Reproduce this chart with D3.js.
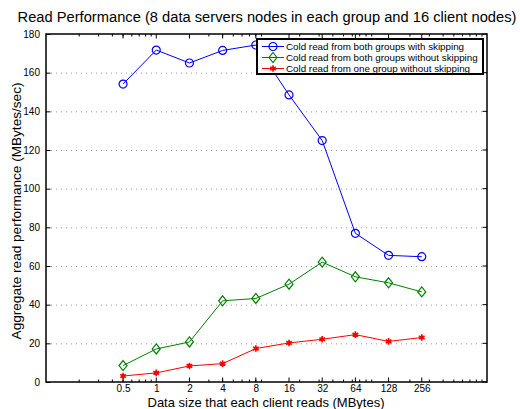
<!DOCTYPE html>
<html>
<head>
<meta charset="utf-8">
<script src="https://cdn.jsdelivr.net/npm/d3@7"></script>
<style>
body { margin: 0; background: #fff; }
text { font-family: "Liberation Sans", Arial, sans-serif; }
</style>
</head>
<body>
<div class="chart"></div>
<script>
// data
var sizes = [0.5, 1, 2, 4, 8, 16, 32, 64, 128, 256];
var tickLabels = ["0.5", "1", "2", "4", "8", "16", "32", "64", "128", "256"];
var bothSkip = [154.1, 171.7, 165, 171.5, 174.3, 148.5, 124.9, 76.9, 65.5, 64.8];
var bothNoSkip = [8.5, 17.1, 20.7, 42.0, 43.2, 50.6, 62.0, 54.4, 51.3, 46.6];
var oneNoSkip = [3.1, 4.7, 8.3, 9.5, 17.3, 20.2, 22.1, 24.5, 21.0, 23.0];
var seriesNames = [
    "Cold read from both groups with skipping",
    "Cold read from both groups without skipping",
    "Cold read from one group without skipping"
];
var yTicks = [0, 20, 40, 60, 80, 100, 120, 140, 160, 180];

var series = [
    {name: seriesNames[0], values: bothSkip, color: "#0000ff", marker: "circle"},
    {name: seriesNames[1], values: bothNoSkip, color: "#008000", marker: "diamond"},
    {name: seriesNames[2], values: oneNoSkip, color: "#ff0000", marker: "star"}
];

var margin = {top: 34, right: 33, bottom: 27, left: 46},
    width = 520 - margin.left - margin.right,
    height = 409 - margin.top - margin.bottom;

var svg = d3.select('.chart')
    .append('svg')
    .attr("width", 520)
    .attr("height", 409);

var g = svg.append("g")
    .attr("transform", "translate(" + margin.left + "," + margin.top + ")");

var x = d3.scaleLog()
    .domain([0.1, 1000])
    .range([0, width]);

var y = d3.scaleLinear()
    .domain([0, 180])
    .range([height, 0]);

// dotted grid
g.selectAll(".grid")
    .data(yTicks.slice(1, -1))
    .enter()
    .append("line")
    .attr("x1", 0)
    .attr("x2", width)
    .attr("y1", function (d) { return y(d) + 0.5; })
    .attr("y2", function (d) { return y(d) + 0.5; })
    .style("stroke", "#999")
    .style("stroke-dasharray", "1,4");

// minor ticks of the log axis
var minor = [];
[0.1, 1, 10, 100].forEach(function (dec) {
    for (var k = 2; k <= 9; k++) minor.push(dec * k);
});

function addTicks(vals, len) {
    [0, height].forEach(function (yy, i) {
        g.selectAll(null)
            .data(vals)
            .enter()
            .append("line")
            .attr("x1", function (d) { return x(d); })
            .attr("x2", function (d) { return x(d); })
            .attr("y1", yy)
            .attr("y2", i ? yy - len : yy + len)
            .style("stroke", "#000")
            .style("stroke-width", 1);
    });
}
addTicks(minor, 2.5);
addTicks(sizes, 4.5);

// right side mirror ticks
g.selectAll(".rtick")
    .data(yTicks)
    .enter()
    .append("line")
    .attr("x1", width)
    .attr("x2", width - 4.5)
    .attr("y1", function (d) { return y(d); })
    .attr("y2", function (d) { return y(d); })
    .style("stroke", "#000");

var xAxis = d3.axisBottom(x)
    .tickValues(sizes)
    .tickFormat(function (d, i) { return tickLabels[i]; })
    .tickSize(0)
    .tickPadding(3);

g.append("g")
    .attr("class", "x-axis")
    .attr("transform", "translate(0," + height + ")")
    .call(xAxis);

var yAxis = d3.axisLeft(y)
    .tickValues(yTicks)
    .tickSizeInner(-4.5)
    .tickSizeOuter(0)
    .tickPadding(6);

g.append("g")
    .attr("class", "y-axis")
    .call(yAxis);

svg.selectAll(".tick text")
    .style("font-size", "10px")
    .style("fill", "#000");
svg.selectAll(".domain").remove();

// axes box
g.append("rect")
    .attr("width", width)
    .attr("height", height)
    .style("fill", "none")
    .style("stroke", "#000")
    .style("stroke-width", 1.5);

var line = d3.line()
    .x(function (d, i) { return x(sizes[i]); })
    .y(function (d) { return y(d); });

function drawMarker(sel, s) {
    if (s.marker === "circle") {
        sel.append("circle").attr("r", 4)
            .style("fill", "none").style("stroke", s.color).style("stroke-width", 1.2);
    } else if (s.marker === "diamond") {
        sel.append("path").attr("d", "M0,-5L4,0L0,5L-4,0Z")
            .style("fill", "none").style("stroke", s.color).style("stroke-width", 1.2);
    } else {
        sel.append("path").attr("d", d3.symbol().type(d3.symbolAsterisk).size(30)())
            .style("fill", "none").style("stroke", s.color).style("stroke-width", 1.6);
        sel.append("circle").attr("r", 2).style("fill", s.color);
    }
}

series.forEach(function (s) {
    g.append("path")
        .datum(s.values)
        .attr("d", line)
        .style("fill", "none")
        .style("stroke", s.color)
        .style("stroke-width", 1);

    g.selectAll(null)
        .data(s.values)
        .enter()
        .append("g")
        .attr("transform", function (d, i) {
            return "translate(" + x(sizes[i]) + "," + y(d) + ")";
        })
        .each(function () { drawMarker(d3.select(this), s); });
});

// legend
var legend = svg.append("g").attr("transform", "translate(257,39)");
legend.append("rect")
    .attr("width", 226)
    .attr("height", 35)
    .style("fill", "#fff")
    .style("stroke", "#000")
    .style("stroke-width", 2);

series.forEach(function (s, i) {
    var row = legend.append("g").attr("transform", "translate(0," + (7.5 + i * 11) + ")");
    row.append("line")
        .attr("x1", 5).attr("x2", 27)
        .style("stroke", s.color).style("stroke-width", 1);
    var m = row.append("g").attr("transform", "translate(16,0)");
    drawMarker(m, s);
    row.append("text")
        .attr("x", 29)
        .attr("y", 3.5)
        .style("font-size", "9.8px")
        .text(s.name);
});

// titles
svg.append("text")
    .attr("x", 267)
    .attr("y", 22)
    .attr("text-anchor", "middle")
    .style("font-size", "14.7px")
    .text("Read Performance (8 data servers nodes in each group and 16 client nodes)");

svg.append("text")
    .attr("x", 266)
    .attr("y", 407)
    .attr("text-anchor", "middle")
    .style("font-size", "13px")
    .text("Data size that each client reads (MBytes)");

svg.append("text")
    .attr("transform", "translate(21,211) rotate(-90)")
    .attr("text-anchor", "middle")
    .style("font-size", "13.6px")
    .text("Aggregate read performance (MBytes/sec)");
</script>
</body>
</html>
